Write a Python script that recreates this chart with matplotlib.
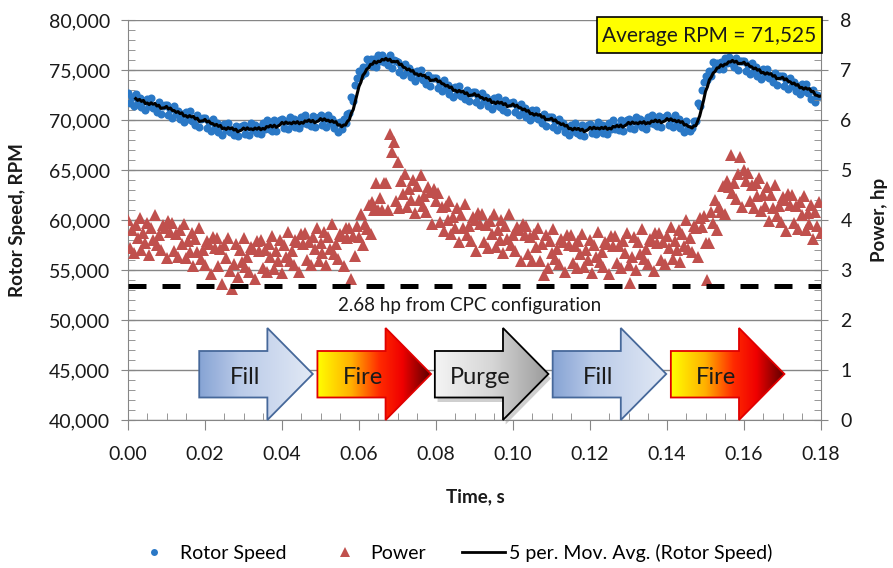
import numpy as np
import pandas as pd
import matplotlib
matplotlib.use('Agg')
import matplotlib.pyplot as plt
from matplotlib.patches import Polygon, Rectangle
from matplotlib.colors import LinearSegmentedColormap
from matplotlib.ticker import MultipleLocator, FuncFormatter
from matplotlib.lines import Line2D

plt.rcParams['font.family'] = ['Lato', 'DejaVu Sans']

# ---------------- data ----------------
sample_interval_s = 0.0005

rotor_speed_hundreds = [
    727, 717, 723, 714, 726, 718, 722, 713, 719, 710,
    721, 714, 722, 712, 714, 708, 718, 706, 714, 715,
    715, 705, 711, 702, 714, 706, 709, 701, 706, 698,
    708, 701, 709, 699, 701, 695, 705, 693, 701, 702,
    702, 692, 698, 689, 701, 693, 697, 688, 694, 685,
    696, 690, 697, 688, 690, 685, 694, 684, 693, 694,
    695, 686, 693, 685, 697, 690, 695, 687, 693, 686,
    697, 691, 700, 691, 694, 689, 700, 689, 698, 700,
    701, 692, 699, 691, 703, 696, 701, 693, 699, 692,
    703, 697, 705, 696, 699, 694, 704, 693, 702, 703,
    705, 695, 701, 693, 705, 697, 701, 692, 697, 688,
    698, 691, 701, 697, 706, 707, 723, 719, 735, 742,
    749, 744, 753, 747, 761, 756, 761, 754, 761, 753,
    765, 759, 765, 758, 761, 755, 765, 752, 760, 759,
    758, 748, 754, 745, 756, 748, 752, 743, 748, 739,
    749, 743, 750, 740, 742, 736, 745, 734, 742, 742,
    742, 732, 737, 729, 740, 732, 735, 726, 732, 723,
    733, 726, 734, 724, 727, 721, 730, 719, 727, 728,
    728, 718, 724, 715, 727, 719, 723, 714, 720, 711,
    722, 715, 723, 713, 716, 710, 720, 708, 717, 717,
    718, 708, 714, 705, 716, 708, 712, 703, 708, 700,
    710, 703, 710, 701, 703, 697, 706, 694, 703, 703,
    703, 693, 699, 690, 701, 694, 697, 688, 693, 685,
    695, 689, 697, 687, 690, 685, 695, 684, 693, 695,
    696, 687, 693, 686, 698, 691, 695, 687, 694, 686,
    697, 691, 700, 691, 694, 690, 700, 689, 698, 700,
    701, 692, 699, 691, 703, 696, 701, 693, 699, 691,
    703, 697, 705, 696, 699, 694, 704, 693, 702, 703,
    705, 695, 701, 693, 705, 697, 701, 692, 697, 688,
    699, 692, 689, 692, 699, 699, 717, 714, 730, 738,
    744, 740, 749, 744, 758, 752, 757, 751, 758, 751,
    762, 757, 763, 757, 759, 753, 762, 750, 759, 759,
    759, 749, 755, 746, 757, 749, 753, 744, 749, 741,
    751, 744, 751, 742, 744, 738, 747, 735, 744, 744,
    744, 734, 740, 731, 742, 734, 738, 729, 734, 726,
    736, 729, 736, 727, 729, 721, 730, 718, 725, 724,
    723,
]

power_hp = [
    4.00, 3.45, 3.80, 3.35, 3.90, 3.65, 4.05, 3.40, 3.75, 3.55,
    3.95, 3.30, 3.85, 3.60, 4.10, 3.50, 3.70, 3.40, 3.90, 3.85,
    3.25, 3.98, 3.77, 3.95, 3.39, 3.72, 3.26, 3.80, 3.53, 3.92,
    3.25, 3.58, 3.37, 3.75, 3.09, 3.62, 3.36, 3.85, 3.23, 3.41,
    3.10, 3.59, 3.53, 2.92, 3.66, 3.45, 3.64, 3.08, 3.42, 2.72,
    3.50, 3.25, 3.64, 2.99, 2.62, 3.13, 3.52, 2.87, 3.41, 3.16,
    3.65, 3.06, 3.26, 2.97, 3.47, 3.43, 2.83, 3.59, 3.39, 3.60,
    3.05, 3.41, 2.96, 3.52, 3.27, 3.68, 3.03, 3.39, 3.19, 3.60,
    2.95, 3.51, 3.27, 3.77, 3.18, 3.39, 3.10, 3.60, 3.56, 2.97,
    3.73, 3.53, 3.74, 3.20, 3.56, 3.11, 3.67, 3.43, 3.84, 3.19,
    3.55, 3.35, 3.76, 3.11, 3.66, 3.42, 3.92, 3.32, 3.53, 3.23,
    3.73, 3.69, 3.09, 3.84, 3.65, 3.85, 2.83, 3.69, 3.28, 3.88,
    3.67, 4.11, 3.50, 3.93, 3.82, 4.30, 3.73, 4.37, 4.20, 4.75,
    4.20, 4.45, 4.20, 4.75, 4.75, 4.20, 5.73, 5.37, 5.57, 4.38,
    5.17, 4.24, 4.79, 4.53, 4.93, 4.27, 4.61, 4.41, 4.80, 4.14,
    4.68, 4.41, 4.90, 4.29, 4.48, 4.16, 4.65, 4.56, 3.92, 4.63,
    4.39, 4.55, 3.96, 4.27, 3.78, 4.29, 4.00, 4.39, 3.72, 4.06,
    3.84, 4.23, 3.56, 4.10, 3.84, 4.32, 3.71, 3.89, 3.58, 4.06,
    4.00, 3.39, 4.14, 3.93, 4.12, 3.56, 3.91, 3.45, 3.99, 3.73,
    4.13, 3.47, 3.81, 3.60, 4.00, 3.34, 3.88, 3.62, 4.12, 3.51,
    3.70, 3.38, 3.87, 3.80, 3.19, 3.92, 3.71, 3.89, 3.33, 3.66,
    3.19, 3.73, 3.46, 3.85, 3.18, 3.52, 2.90, 3.70, 3.04, 3.59,
    3.34, 3.83, 3.23, 3.43, 3.12, 3.62, 3.56, 2.96, 3.71, 3.50,
    3.70, 3.15, 3.49, 3.04, 3.58, 3.33, 3.72, 3.07, 3.41, 3.21,
    3.60, 2.95, 3.51, 3.26, 3.76, 3.16, 3.37, 3.07, 3.57, 3.52,
    2.93, 3.68, 3.48, 3.68, 3.14, 3.49, 3.04, 3.59, 3.35, 3.75,
    3.10, 2.74, 3.26, 3.66, 3.01, 3.57, 3.32, 3.82, 3.23, 3.43,
    3.13, 3.63, 3.59, 2.99, 3.74, 3.55, 3.75, 3.21, 3.57, 3.13,
    3.69, 3.45, 3.86, 3.23, 3.59, 3.40, 3.81, 3.17, 3.73, 3.49,
    4.00, 3.42, 3.64, 3.36, 3.88, 3.85, 3.27, 4.04, 3.86, 4.08,
    3.55, 2.80, 3.55, 4.15, 3.95, 4.40, 3.80, 4.26, 4.17, 4.68,
    4.13, 4.79, 4.65, 5.30, 4.54, 4.73, 4.43, 4.92, 5.26, 4.26,
    5.00, 4.78, 4.95, 4.38, 4.70, 4.23, 4.75, 4.48, 4.85, 4.18,
    4.50, 4.28, 4.65, 3.98, 4.50, 4.23, 4.70, 4.09, 4.28, 3.97,
    4.46, 4.40, 3.79, 4.53, 4.31, 4.50, 3.94, 4.28, 3.82, 4.36,
    4.10, 4.48, 3.81, 4.14, 3.92, 4.30, 3.63, 4.16, 3.89, 4.37,
    3.75,
]

cpc_power_hp = 2.68
cpc_label = "2.68 hp from CPC configuration"
average_label = "Average RPM = 71,525"
phase_labels = ["Fill", "Fire", "Purge", "Fill", "Fire"]
phase_starts_s = [0.0185, 0.0492, 0.0797, 0.1103, 0.1410]
moving_avg_period = 5

rotor_speed_rpm = np.array(rotor_speed_hundreds) * 100.0
time_s = np.arange(len(rotor_speed_rpm)) * sample_interval_s
power_arr = np.array(power_hp)
mov_avg = pd.Series(rotor_speed_rpm).rolling(moving_avg_period).mean().values

# ---------------- figure ----------------
W, H = 893, 568
fig = plt.figure(figsize=(W / 100, H / 100), dpi=100)
ax1 = fig.add_axes([128 / W, 1 - 420 / H, 693 / W, 400 / H])
ax2 = ax1.twinx()

blue = '#2a78c6'
red = '#c0504d'
gray = '#868686'
txt = '#1a1a1a'
fs = 14

ax1.plot(time_s, rotor_speed_rpm, 'o', ms=5.8, color=blue, mew=0, zorder=3)
ax1.plot(time_s, mov_avg, '-', color='black', lw=2.2, zorder=4)
ax2.plot(time_s, power_arr, '^', ms=8.5, color=red, mew=0, zorder=3)
ax2.axhline(cpc_power_hp, color='black', lw=3.6, dashes=(3.6, 3.2), zorder=4)
ax2.text(0.0888, 2.30, cpc_label, ha='center', va='center', fontsize=13.5, color=txt)

# ---------------- phase arrows ----------------
def draw_phase(ax, x0, label, stops, edge, shadow=False):
    w_total, w_body = 0.0295, 0.0177
    yb0, yb1 = 42250, 46900
    yh0, yh1 = 40000, 49200
    yc = (yh0 + yh1) / 2
    xh, xt = x0 + w_body, x0 + w_total
    verts = [(x0, yb0), (xh, yb0), (xh, yh0), (xt, yc), (xh, yh1), (xh, yb1), (x0, yb1)]
    if shadow:
        sv = [(x + 0.0007, y - 450) for x, y in verts]
        sp = Polygon(sv, closed=True, facecolor='#b0b0b0', edgecolor='none',
                     alpha=0.6, zorder=2, clip_on=False)
        ax.add_patch(sp)
    cmap = LinearSegmentedColormap.from_list('g', stops)
    poly = Polygon(verts, closed=True, facecolor='none', edgecolor=edge,
                   lw=1.3, zorder=6, clip_on=False)
    ax.add_patch(poly)
    grad = np.linspace(0, 1, 256).reshape(1, -1)
    im = ax.imshow(grad, extent=[x0, xt, yh0, yh1], aspect='auto', cmap=cmap,
                   origin='lower', zorder=5, interpolation='bicubic')
    im.set_clip_path(poly)
    ax.text(x0 + 0.40 * w_total, 44250, label, ha='center', va='center',
            fontsize=17, color=txt, zorder=7)

fill_stops = [(0, '#86a3d4'), (0.35, '#b9cae8'), (1, '#e2e9f5')]
fire_stops = [(0, '#ffff00'), (0.3, '#ffb000'), (0.55, '#ff2a00'),
              (0.75, '#f00000'), (1, '#5a0000')]
purge_stops = [(0, '#f4f4f4'), (0.5, '#d6d6d6'), (1, '#9a9a9a')]
styles = {
    'Fill': (fill_stops, '#46689a', False),
    'Fire': (fire_stops, '#e00000', False),
    'Purge': (purge_stops, '#000000', True),
}
for lab, x0 in zip(phase_labels, phase_starts_s):
    st, ec, sh = styles[lab]
    draw_phase(ax1, x0, lab, st, ec, sh)

# ---------------- axes styling ----------------
ax1.set_xlim(0, 0.18)
ax1.set_ylim(40000, 80000)
ax2.set_ylim(0, 8)

ax1.xaxis.set_major_locator(MultipleLocator(0.02))
ax1.xaxis.set_minor_locator(MultipleLocator(0.005))
ax1.yaxis.set_major_locator(MultipleLocator(5000))
ax1.yaxis.set_minor_locator(MultipleLocator(1000))
ax2.yaxis.set_major_locator(MultipleLocator(1))
ax2.yaxis.set_minor_locator(MultipleLocator(0.2))

ax1.xaxis.set_major_formatter(FuncFormatter(lambda v, p: f'{v:.2f}'))
ax1.yaxis.set_major_formatter(FuncFormatter(lambda v, p: f'{v:,.0f}'))
ax2.yaxis.set_major_formatter(FuncFormatter(lambda v, p: f'{v:.0f}'))

ax1.tick_params(axis='x', which='major', direction='out', length=7, color=gray,
                labelsize=fs, labelcolor=txt, pad=12)
ax1.tick_params(axis='x', which='minor', direction='in', length=5, color=gray)
ax1.tick_params(axis='y', which='major', direction='inout', length=10, color=gray,
                labelsize=fs, labelcolor=txt, pad=8)
ax1.tick_params(axis='y', which='minor', direction='in', length=5, color=gray)
ax2.tick_params(axis='y', which='major', direction='inout', length=10, color=gray,
                labelsize=fs, labelcolor=txt, pad=9)
ax2.tick_params(axis='y', which='minor', direction='in', length=5, color=gray)

ax1.yaxis.grid(True, which='major', color=gray, lw=1.0, zorder=0)
ax1.set_axisbelow(True)

for ax in (ax1, ax2):
    ax.spines['top'].set_visible(False)
ax1.spines['right'].set_visible(False)
ax1.spines['left'].set_color(gray)
ax1.spines['bottom'].set_color(gray)
ax2.spines['left'].set_visible(False)
ax2.spines['bottom'].set_visible(False)
ax2.spines['right'].set_color(gray)

# labels
fig.text(18 / W, 1 - 220 / H, 'Rotor Speed, RPM', rotation=90, ha='center',
         va='center', fontsize=13.5, fontweight='bold', color=txt)
fig.text(880 / W, 1 - 220 / H, 'Power, hp', rotation=90, ha='center',
         va='center', fontsize=13.5, fontweight='bold', color=txt)
fig.text(475 / W, 1 - 497 / H, 'Time, s', ha='center', va='center',
         fontsize=13.5, fontweight='bold', color=txt)

# average RPM box
box = Rectangle((597 / W, 1 - 53 / H), 225 / W, 36 / H, transform=fig.transFigure,
                facecolor='#ffff00', edgecolor='black', lw=1.2, zorder=10)
fig.patches.append(box)
fig.text(709.5 / W, 1 - 35.5 / H, average_label, ha='center', va='center',
         fontsize=15, color=txt, zorder=11)

# legend
handles = [
    Line2D([], [], ls='none', marker='o', ms=5, color=blue, mew=0),
    Line2D([], [], ls='none', marker='^', ms=6.5, color=red, mew=0),
    Line2D([], [], color='black', lw=2),
]
labels = ['Rotor Speed', 'Power', '5 per. Mov. Avg. (Rotor Speed)']
fig.legend(handles, labels, loc='center', bbox_to_anchor=(0.507, 1 - 553 / H),
           ncol=3, frameon=False, fontsize=fs, handlelength=2.2,
           handletextpad=0.2, columnspacing=1.9)

fig.savefig('out.png', dpi=100)
